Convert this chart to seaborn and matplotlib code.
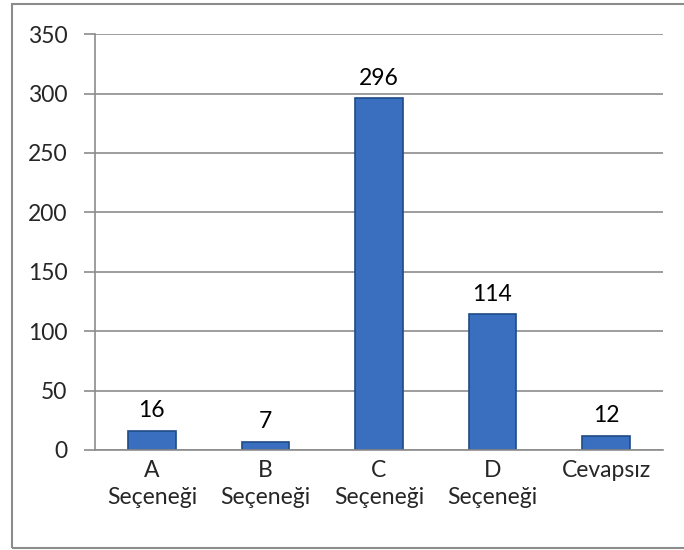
import pandas as pd
import seaborn as sns
import matplotlib.pyplot as plt
from matplotlib.patches import Rectangle

# Chart data
categories = ['A\nSeçeneği', 'B\nSeçeneği', 'C\nSeçeneği', 'D\nSeçeneği', 'Cevapsız']
counts = [16, 7, 296, 114, 12]
y_ticks = [0, 50, 100, 150, 200, 250, 300, 350]

df = pd.DataFrame({'secenek': categories, 'sayi': counts})

sns.set_theme(style='white')
plt.rcParams['font.family'] = ['Lato', 'DejaVu Sans']

fig = plt.figure(figsize=(6.84, 5.5), dpi=100)
ax = fig.add_axes([0.139, 0.182, 0.830, 0.756])

sns.barplot(data=df, x='secenek', y='sayi', color='#3a6fbf', width=0.42,
            edgecolor='#1f4a86', linewidth=1.2, saturation=1, ax=ax)

# Value labels above bars
for cont in ax.containers:
    ax.bar_label(cont, padding=7, fontsize=16.5, color='black')

ax.set_ylim(0, 350)
ax.set_yticks(y_ticks)
ax.set_xlim(-0.5, len(categories) - 0.5)
ax.set_xlabel('')
ax.set_ylabel('')
ax.grid(axis='y', color='#8c8c8c', linewidth=1.2)
ax.set_axisbelow(True)

for s in ['top', 'right']:
    ax.spines[s].set_visible(False)
for s in ['left', 'bottom']:
    ax.spines[s].set_color('#8c8c8c')
    ax.spines[s].set_linewidth(1.2)

# Category boundary ticks on x axis
ax.set_xticks(range(len(categories)))
ax.set_xticklabels(categories, fontsize=16.5, linespacing=1.35)
ax.tick_params(axis='x', length=0, pad=7)
ax.set_xticks([i - 0.5 for i in range(len(categories) + 1)], minor=True)
ax.tick_params(axis='x', which='minor', length=8, width=1.2, color='#8c8c8c', direction='out')
ax.tick_params(axis='y', length=8, width=1.2, color='#8c8c8c', direction='out',
               labelsize=16.5, pad=12, left=True)

# Outer chart frame
fig.patches.append(Rectangle((12 / 684, 2 / 550), 1.0, 544 / 550, transform=fig.transFigure,
                             fill=False, edgecolor='#8c8c8c', linewidth=1.5, zorder=0))

fig.savefig('out.png', dpi=100, facecolor='white')
